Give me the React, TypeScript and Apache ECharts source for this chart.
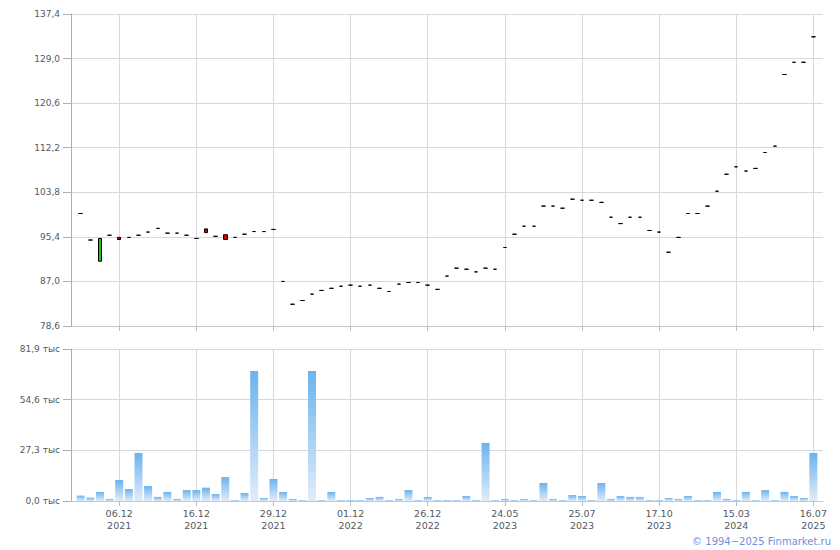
import React, { useEffect, useRef } from 'react';
import * as echarts from 'echarts';

// Tick labels shown under the volume panel (every 8th trading point starting at index 4)
const tickLabels = [
  '06.12\n2021', '16.12\n2021', '29.12\n2021', '01.12\n2022', '26.12\n2022',
  '24.05\n2023', '25.07\n2023', '17.10\n2023', '15.03\n2024', '16.07\n2025',
];
const firstTickIndex = 4;
const tickStep = 8;

// Closing prices
const closes = [
  99.8, 94.8, 95.1, 95.7, 94.9, 95.3, 95.7, 96.3, 97.0, 96.1,
  96.1, 95.7, 95.1, 96.2, 95.5, 94.9, 95.3, 95.9, 96.4, 96.4,
  96.8, 87.0, 82.7, 83.4, 84.6, 85.3, 85.7, 86.1, 86.3, 86.1,
  86.3, 85.7, 85.1, 86.5, 86.8, 86.8, 86.3, 85.5, 88.0, 89.5,
  89.3, 88.8, 89.5, 89.3, 93.4, 95.9, 97.4, 97.4, 101.2, 101.2,
  100.8, 102.5, 102.3, 102.3, 101.9, 99.1, 97.9, 99.1, 99.1, 96.6,
  96.3, 92.5, 95.3, 99.8, 99.8, 101.2, 104.0, 107.2, 108.6, 107.8,
  108.3, 111.3, 112.5, 126.0, 128.3, 128.3, 133.1,
];
// Points where the open differs from the close
const openDiffIdx = [2, 4, 13, 15];
const openDiffVal = [90.8, 95.3, 96.9, 95.8];

// Volumes, thousands
const volumes = [
  2.9, 1.8, 4.9, 1.1, 11.3, 6.5, 25.9, 8.1, 2.2, 4.9,
  1.1, 5.9, 5.9, 7.2, 3.8, 12.9, 0.5, 4.3, 70.0, 1.6,
  11.9, 4.9, 1.1, 0.5, 70.0, 0.5, 4.9, 0.5, 0.5, 0.5,
  1.6, 2.2, 0.5, 1.1, 5.9, 0.5, 2.2, 0.5, 0.5, 0.5,
  2.7, 0.5, 31.3, 0.5, 1.1, 0.5, 1.1, 0.5, 9.7, 1.1,
  0.5, 3.2, 2.7, 0.5, 9.7, 1.1, 2.7, 2.2, 2.2, 0.5,
  0.5, 1.6, 1.1, 2.7, 0.5, 0.5, 4.9, 1.1, 0.5, 4.9,
  0.5, 5.9, 0.5, 4.9, 2.7, 1.6, 25.9,
];

const priceMin = 78.6;
const priceMax = 137.4;
const priceStep = 8.4;
const volMin = 0;
const volMax = 81.9;
const volStep = 27.3;

const FONT = '"DejaVu Sans", Verdana, sans-serif';

export default function App() {
  const ref = useRef<HTMLDivElement>(null);

  useEffect(() => {
    if (!ref.current) return;
    const chart = echarts.init(ref.current, undefined, { renderer: 'svg' });

    const n = closes.length;
    // padded categories: one empty slot on each side
    const cats: string[] = [''];
    for (let i = 0; i < n; i++) {
      const k = (i - firstTickIndex) / tickStep;
      cats.push(Number.isInteger(k) && k >= 0 && k < tickLabels.length ? tickLabels[k] : '');
    }
    cats.push('');

    const candleData = closes.map((c, i) => {
      const j = openDiffIdx.indexOf(i);
      const o = j >= 0 ? openDiffVal[j] : c;
      return [i + 1, o, c, Math.min(o, c), Math.max(o, c)];
    });
    const volData = volumes.map((v, i) => [i + 1, v]);

    const showFn = (_idx: number, val: string) => val !== '';
    const splitCol = '#d4d9de';
    const labelCol = '#535963';

    const fmt = (v: number) => v.toFixed(1).replace('.', ',');

    const xCommon = (gridIndex: number, showLabels: boolean) => ({
      type: 'category',
      gridIndex,
      data: cats,
      boundaryGap: false,
      axisLine: { show: true, lineStyle: { color: '#c3c8ce', width: 1 } },
      axisTick: { show: true, interval: showFn, length: 5, lineStyle: { color: '#b8bdc5' } },
      axisLabel: {
        show: showLabels,
        interval: showFn,
        color: labelCol,
        fontFamily: FONT,
        fontSize: 9.5,
        lineHeight: 12,
        margin: 6,
      },
      splitLine: { show: true, interval: showFn, lineStyle: { color: splitCol, width: 1 } },
    });

    const yCommon = (gridIndex: number, min: number, max: number, step: number, suffix: string) => ({
      type: 'value',
      gridIndex,
      min,
      max,
      interval: step,
      axisLine: { show: true, lineStyle: { color: '#a9aebb' } },
      axisTick: { show: true, length: 8, lineStyle: { color: '#a9aebb' } },
      axisLabel: {
        color: labelCol,
        fontFamily: FONT,
        fontSize: 9,
        margin: 11,
        formatter: (v: number) => fmt(v) + suffix,
      },
      splitLine: { show: true, lineStyle: { color: splitCol, width: 1 } },
    });

    chart.setOption({
      animation: false,
      backgroundColor: '#ffffff',
      grid: [
        { left: 71, right: 17, top: 14, height: 312 },
        { left: 71, right: 17, top: 349, height: 152 },
      ],
      xAxis: [xCommon(0, false), xCommon(1, true)],
      yAxis: [
        yCommon(0, priceMin, priceMax, priceStep, ''),
        yCommon(1, volMin, volMax, volStep, ' тыс'),
      ],
      series: [
        {
          type: 'candlestick',
          xAxisIndex: 0,
          yAxisIndex: 0,
          barWidth: 4,
          data: candleData,
          encode: { x: 0, y: [1, 2, 3, 4] },
          itemStyle: {
            color: '#22c422',
            color0: '#d40000',
            borderColor: '#000000',
            borderColor0: '#000000',
            borderColorDoji: '#000000',
            borderWidth: 1,
          },
        },
        {
          type: 'bar',
          xAxisIndex: 1,
          yAxisIndex: 1,
          barWidth: 8,
          data: volData,
          encode: { x: 0, y: 1 },
          itemStyle: {
            color: new echarts.graphic.LinearGradient(0, 0, 0, 1, [
              { offset: 0, color: '#6cb3ee' },
              { offset: 1, color: '#e1ecf9' },
            ]),
          },
        },
      ],
      graphic: [
        {
          type: 'text',
          right: 9,
          top: 536,
          style: {
            text: '© 1994−2025 Finmarket.ru',
            fill: '#6f8fdc',
            font: '10px "DejaVu Sans", Verdana, sans-serif',
          },
        },
      ],
    });

    return () => chart.dispose();
  }, []);

  return (
    <div
      ref={ref}
      style={{ position: 'absolute', left: 0, top: 0, width: 840, height: 550 }}
    />
  );
}
